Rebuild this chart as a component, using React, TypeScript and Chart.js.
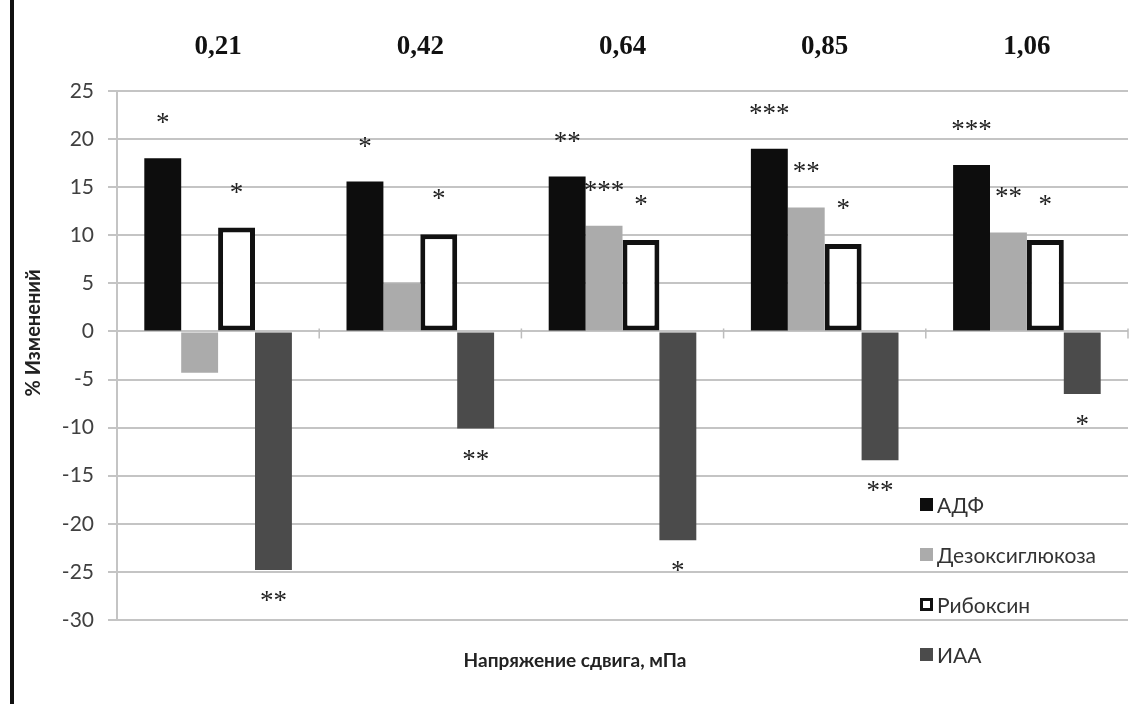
import React, { useEffect, useRef } from "react";
import { Chart, registerables } from "chart.js";

Chart.register(...registerables);

const categories = ["0,21", "0,42", "0,64", "0,85", "1,06"];
const seriesNames = ["АДФ", "Дезоксиглюкоза", "Рибоксин", "ИАА"];
const adf = [18.0, 15.6, 16.1, 19.0, 17.3];
const deoxy = [-4.3, 5.0, 11.0, 12.9, 10.3];
const ribo = [10.8, 10.1, 9.5, 9.1, 9.5];
const iaa = [-24.8, -10.1, -21.7, -13.4, -6.5];
const adfMarks = ["*", "*", "**", "***", "***"];
const deoxyMarks = ["", "", "***", "**", "**"];
const riboMarks = ["*", "*", "*", "*", "*"];
const iaaMarks = ["**", "**", "*", "**", "*"];
const yTicks = [25, 20, 15, 10, 5, 0, -5, -10, -15, -20, -25, -30];
const yTitle = "% Изменений";
const xTitle = "Напряжение сдвига, мПа";

const SANS = "Lato, 'Noto Sans', sans-serif";

export default function App() {
  const ref = useRef<HTMLCanvasElement | null>(null);
  useEffect(() => {
    if (!ref.current) return;
    const marks = [adfMarks, deoxyMarks, riboMarks, iaaMarks];
    const fills = ["#0d0d0d", "#ababab", "#ffffff", "#4b4b4b"];
    const decor = {
      id: "decor",
      afterDatasetsDraw(chart: any) {
        const ctx = chart.ctx;
        const x = chart.scales.x;
        const y = chart.scales.y;
        ctx.save();
        ctx.strokeStyle = "#bdbdbd";
        ctx.lineWidth = 1.5;
        const y0 = y.getPixelForValue(0);
        for (let i = 1; i <= categories.length; i++) {
          const px = x.left + (i * (x.right - x.left)) / categories.length;
          ctx.beginPath();
          ctx.moveTo(px, y0 - 3);
          ctx.lineTo(px, y0 + 7);
          ctx.stroke();
        }
        ctx.fillStyle = "#222";
        ctx.font = "27px 'Liberation Serif', serif";
        ctx.textAlign = "center";
        ctx.textBaseline = "middle";
        chart.data.datasets.forEach((ds: any, di: number) => {
          const meta = chart.getDatasetMeta(di);
          meta.data.forEach((bar: any, i: number) => {
            const m = marks[di][i];
            if (!m) return;
            const v = ds.data[i];
            const py = v >= 0 ? bar.y - 34 : bar.y + 32;
            ctx.fillText(m, bar.x, py);
          });
        });
        ctx.restore();
      },
      afterDraw(chart: any) {
        const ctx = chart.ctx;
        ctx.save();
        ctx.fillStyle = "#111";
        ctx.fillRect(10, 0, 4, 704);
        ctx.fillStyle = "#222";
        ctx.font = "bold 20px " + SANS;
        ctx.textAlign = "center";
        ctx.textBaseline = "middle";
        ctx.save();
        ctx.translate(34, 333);
        ctx.rotate(-Math.PI / 2);
        ctx.fillText(yTitle, 0, 0);
        ctx.restore();
        ctx.font = "bold 19px " + SANS;
        ctx.fillText(xTitle, 575, 661);
        ctx.font = "21px " + SANS;
        ctx.textAlign = "left";
        seriesNames.forEach((name, i) => {
          const ly = 505 + i * 50;
          if (i === 2) {
            ctx.fillStyle = "#fff";
            ctx.fillRect(920, ly - 7, 13, 13);
            ctx.strokeStyle = "#111";
            ctx.lineWidth = 3;
            ctx.strokeRect(921.5, ly - 5.5, 10, 10);
          } else {
            ctx.fillStyle = fills[i];
            ctx.fillRect(920, ly - 7, 13, 13);
          }
          ctx.fillStyle = "#333";
          ctx.fillText(name, 937, ly + 1);
        });
        ctx.restore();
      },
    };
    const chart = new Chart(ref.current, {
      type: "bar",
      data: {
        labels: categories,
        datasets: [
          { label: seriesNames[0], data: adf, backgroundColor: fills[0], borderWidth: 0 },
          { label: seriesNames[1], data: deoxy, backgroundColor: fills[1], borderWidth: 0 },
          {
            label: seriesNames[2],
            data: ribo,
            backgroundColor: fills[2],
            borderColor: "#111",
            borderWidth: 5,
            borderSkipped: false,
          },
          { label: seriesNames[3], data: iaa, backgroundColor: fills[3], borderWidth: 0 },
        ],
      },
      options: {
        animation: false,
        responsive: true,
        maintainAspectRatio: false,
        layout: { padding: { left: 0, right: 19, top: 0, bottom: 0 } },
        plugins: { legend: { display: false }, tooltip: { enabled: false } },
        datasets: { bar: { categoryPercentage: 0.73, barPercentage: 1 } },
        scales: {
          x: {
            position: "top",
            grid: { display: false, drawTicks: false },
            border: { display: false },
            ticks: {
              color: "#111",
              font: { family: "'Liberation Serif', serif", size: 27, weight: "bold" },
              padding: 28,
            },
            afterFit(s: any) {
              s.height = 91;
            },
          },
          x2: {
            type: "category",
            labels: categories,
            position: "bottom",
            display: true,
            grid: { display: false, drawTicks: false },
            border: { display: false },
            ticks: { display: false },
            afterFit(s: any) {
              s.height = 84;
            },
          },
          y: {
            min: -30,
            max: 25,
            afterBuildTicks(s: any) {
              s.ticks = yTicks.map((v) => ({ value: v }));
            },
            grid: { color: "#c4c4c4", lineWidth: 2, tickLength: 9 },
            border: { display: true, color: "#c4c4c4", width: 2 },
            ticks: {
              color: "#404040",
              font: { family: SANS, size: 21 },
              padding: 14,
            },
            afterFit(s: any) {
              s.width = 117;
            },
          },
        },
      },
      plugins: [decor],
    });
    return () => chart.destroy();
  }, []);
  return (
    <div style={{ position: "absolute", left: 0, top: 0, width: 1147, height: 704, background: "#fff" }}>
      <canvas ref={ref} />
    </div>
  );
}
